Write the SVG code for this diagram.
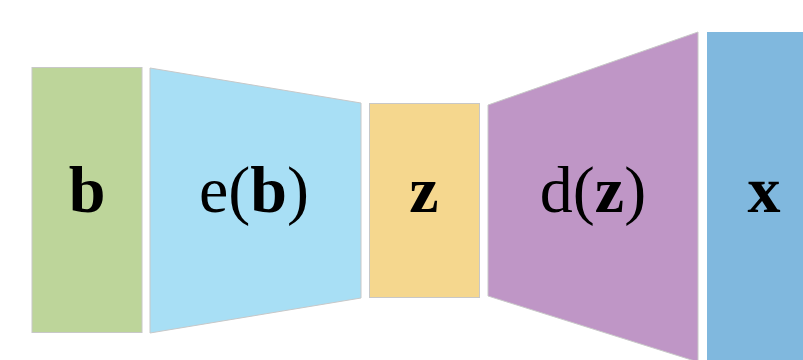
<svg xmlns="http://www.w3.org/2000/svg" width="803" height="360" viewBox="0 0 803 360">
<style>
.s{stroke:#c8c8c8;stroke-width:1}
.t{font-family:"Liberation Serif","Times New Roman",serif;font-size:66px;fill:#000;text-anchor:middle}
.bd{font-weight:bold}
</style>
<rect width="803" height="360" fill="#ffffff"/>
<g id="b">
<rect class="s" x="32" y="67.5" width="110" height="265" fill="#bdd59a"/>
<text class="t bd" x="87" y="212">b</text>
</g>
<g id="eb">
<polygon class="s" points="150,68 361,103 361,298 150,333" fill="#a8dff5"/>
<text class="t" x="254" y="212">e(<tspan class="bd">b</tspan>)</text>
</g>
<g id="z">
<rect class="s" x="369.5" y="103.5" width="110" height="194" fill="#f5d78e"/>
<text class="t bd" x="424" y="212">z</text>
</g>
<g id="dz">
<polygon class="s" points="488,105 698,32 698,362 488,296" fill="#bf96c6"/>
<text class="t" x="593" y="212">d(<tspan class="bd">z</tspan>)</text>
</g>
<g id="x">
<rect x="707" y="32" width="100" height="332" fill="#80b8de"/>
<text class="t bd" x="764" y="212">x</text>
</g>
<g id="connectors"></g>
</svg>
